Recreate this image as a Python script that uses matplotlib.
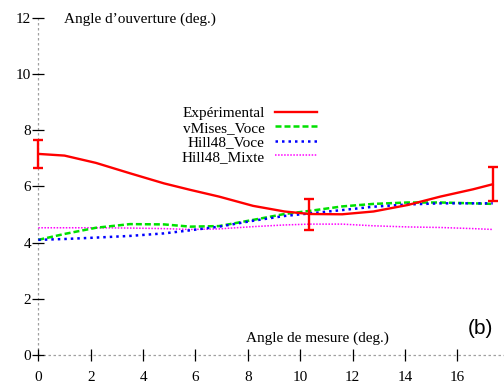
#!/usr/bin/env python3
"""Opening angle vs measuring angle: experiment and three models"""

import matplotlib
matplotlib.use("Agg")
import matplotlib.pyplot as plt

plt.rcParams["font.family"] = ["Liberation Serif", "DejaVu Serif"]

# measured points with error bars
exp_x = [0, 10.35, 17.35]
exp_y = [7.15, 5.0, 6.08]
exp_err = [0.5, 0.55, 0.6]

# curves
angle = [0, 1.0, 2.2, 3.5, 4.8, 5.8, 6.9, 8.2, 9.4, 10.35,
         11.6, 12.8, 14.1, 15.35, 16.6, 17.35]
experimental = [7.16, 7.10, 6.84, 6.47, 6.11, 5.88, 5.64, 5.31, 5.11, 5.02,
                5.01, 5.11, 5.34, 5.64, 5.90, 6.08]
vmises_voce = [4.10, 4.31, 4.53, 4.66, 4.65, 4.57, 4.59, 4.81, 5.02, 5.13,
               5.29, 5.38, 5.43, 5.43, 5.40, 5.38]
hill48_voce = [4.10, 4.13, 4.18, 4.24, 4.33, 4.44, 4.57, 4.78, 4.95, 5.04,
               5.16, 5.28, 5.36, 5.40, 5.40, 5.40]
hill48_mixte = [4.53, 4.53, 4.53, 4.52, 4.50, 4.47, 4.49, 4.57, 4.63, 4.66,
                4.66, 4.60, 4.56, 4.54, 4.50, 4.47]

x_ticks = list(range(0, 17, 2))
y_ticks = list(range(0, 13, 2))

fig = plt.figure(figsize=(5.04, 3.83), dpi=100)
ax = fig.add_axes([0.076, 0.0731, 0.924, 0.880])
ax.set_xlim(0, 17.78)
ax.set_ylim(0, 12)

# zero axes drawn as grey dotted lines, no frame
for s in ax.spines.values():
    s.set_visible(False)
ax.axhline(0, color="#a0a0a0", lw=0.9, ls=(0, (2, 2)), clip_on=False, zorder=1)
ax.axvline(0, color="#a0a0a0", lw=0.9, ls=(0, (2, 2)), clip_on=False, zorder=1)

ax.plot(angle, experimental, color="#ff0000", lw=1.7, label="Expérimental",
        clip_on=False, zorder=5)
ax.errorbar(exp_x, exp_y, yerr=exp_err, fmt="none", ecolor="#ff0000",
            elinewidth=1.7, capsize=3.5, capthick=1.7, clip_on=False, zorder=5)
ax.plot(angle, vmises_voce, color="#00e000", lw=1.8, ls=(0, (2.4, 1.2)),
        label="vMises_Voce", clip_on=False, zorder=4)
ax.plot(angle, hill48_voce, color="#0000ff", lw=1.8, ls=(0, (1, 1.6)),
        label="Hill48_Voce", clip_on=False, zorder=4)
ax.plot(angle, hill48_mixte, color="#ff00ff", lw=1.1, ls=(0, (1, 1)),
        label="Hill48_Mixte", clip_on=False, zorder=3)

ax.set_xticks(x_ticks)
ax.set_yticks(y_ticks)
ax.tick_params(axis="both", direction="inout", length=8.6, width=0.9,
               labelsize=11, colors="black")
ax.tick_params(axis="x", pad=7)
ax.tick_params(axis="y", pad=1)

ax.text(1.0, 11.95, "Angle d\u2019ouverture (deg.)", fontsize=11,
        ha="left", va="center")
ax.text(10.66, 0.6, "Angle de mesure (deg.)", fontsize=11,
        ha="center", va="center")
fig.text(480 / 504, 1 - 329 / 383, "(b)", fontsize=15,
         family=["Liberation Sans", "DejaVu Sans"], ha="center", va="center")

ax.legend(loc="upper right", bbox_to_anchor=(0.598, 0.737), frameon=False,
          markerfirst=False, fontsize=11, handlelength=2.75,
          handletextpad=0.65, labelspacing=0.05, borderpad=0,
          borderaxespad=0)

fig.savefig("out.png", dpi=100)
